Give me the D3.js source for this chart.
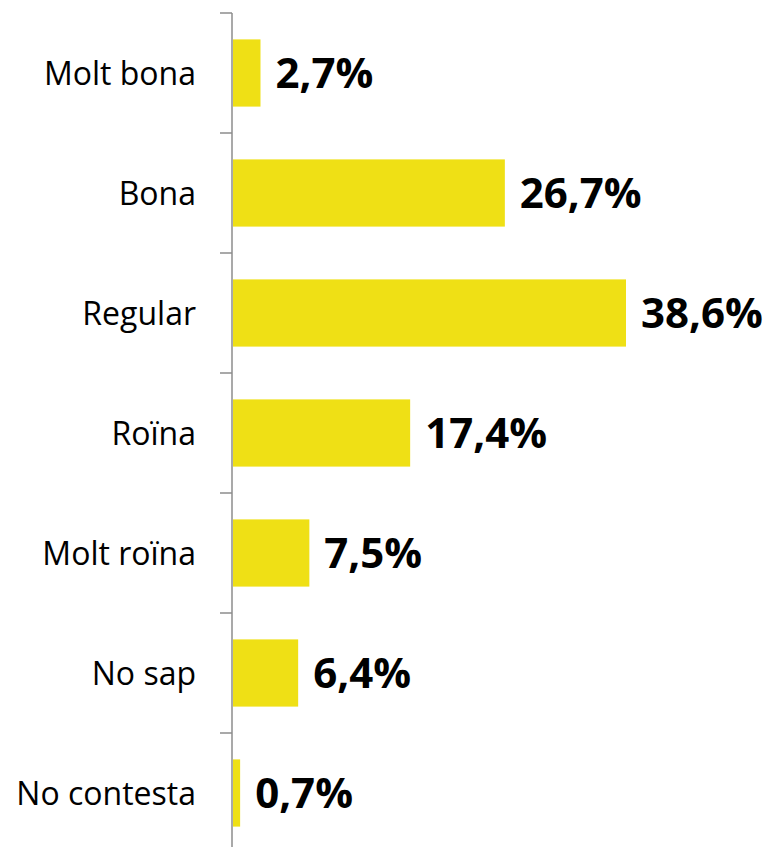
<!DOCTYPE html>
<html>
<head>
<meta charset="UTF-8">
<style>
  body { margin: 0; background: #fff; }
</style>
</head>
<body>
<div id="chart"></div>
<script src="https://cdn.jsdelivr.net/npm/d3@7"></script>
<script>
var categories = ["Molt bona", "Bona", "Regular", "Roïna", "Molt roïna", "No sap", "No contesta"];
var values = [2.7, 26.7, 38.6, 17.4, 7.5, 6.4, 0.7];
var valueLabels = ["2,7%", "26,7%", "38,6%", "17,4%", "7,5%", "6,4%", "0,7%"];

var width = 768,
    height = 847,
    margin = {top: 13, left: 232};

var svg = d3.select("#chart").append("svg")
    .attr("width", width)
    .attr("height", height);

var y = d3.scaleBand()
    .domain(categories)
    .range([margin.top, margin.top + 120 * categories.length])
    .paddingInner(0.44)
    .paddingOuter(0.22);

var x = d3.scaleLinear()
    .domain([0, 38.6])
    .range([margin.left + 1, 626]);

// axis line + ticks between categories
var g = svg.append("g");
g.append("line")
    .attr("x1", margin.left).attr("x2", margin.left)
    .attr("y1", y.range()[0]).attr("y2", y.range()[1])
    .attr("stroke", "#8c8c8c").attr("stroke-width", 1.5);

var step = y.step();
var tickPos = d3.range(categories.length + 1).map(function(i) { return y.range()[0] + i * step; });
g.selectAll(".tick").data(tickPos).enter().append("line")
    .attr("x1", margin.left - 12).attr("x2", margin.left)
    .attr("y1", function(d) { return d; }).attr("y2", function(d) { return d; })
    .attr("stroke", "#8c8c8c").attr("stroke-width", 1.5);

svg.selectAll(".cat").data(categories).enter().append("text")
    .attr("x", 196)
    .attr("y", function(d) { return y(d) + y.bandwidth() / 2; })
    .attr("dy", "0.36em")
    .attr("text-anchor", "end")
    .style("font-family", "'Open Sans', sans-serif")
    .style("font-size", "32px")
    .style("fill", "#000")
    .text(function(d) { return d; });

svg.selectAll(".bar").data(values).enter().append("rect")
    .attr("x", x(0))
    .attr("y", function(d, i) { return y(categories[i]); })
    .attr("width", function(d) { return x(d) - x(0); })
    .attr("height", y.bandwidth())
    .attr("fill", "#efe015");

svg.selectAll(".val").data(values).enter().append("text")
    .attr("x", function(d) { return x(d) + 15; })
    .attr("y", function(d, i) { return y(categories[i]) + y.bandwidth() / 2; })
    .attr("dy", "0.36em")
    .style("font-family", "'Open Sans', sans-serif")
    .style("font-weight", "bold")
    .style("font-size", "42px")
    .style("fill", "#000")
    .text(function(d, i) { return valueLabels[i]; });
</script>
</body>
</html>
